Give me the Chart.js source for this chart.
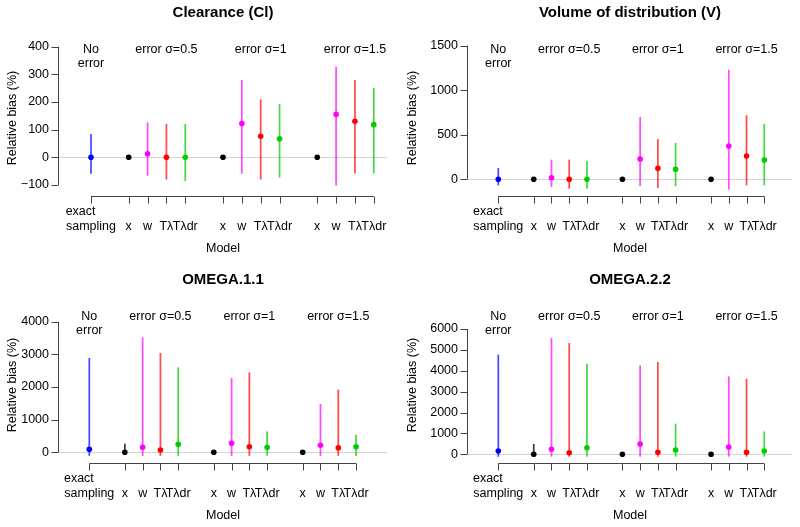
<!DOCTYPE html>
<html lang="en">
  <head>
    <meta charset="UTF-8" />
    <title>Relative bias by model</title>
    <script src="https://cdn.jsdelivr.net/npm/chart.js@4.4.1/dist/chart.umd.min.js"></script>
    <style>
      body {
        margin: 0;
        background: #fff;
      }
      #wrap {
        position: relative;
        width: 800px;
        height: 527px;
        overflow: hidden;
      }
      canvas {
        position: absolute;
      }
    </style>
  </head>
  <body>
    <div id="wrap">
      <canvas id="cl" width="400" height="263" style="left: 0; top: 0"></canvas>
      <canvas id="vol" width="400" height="263" style="left: 400px; top: 0"></canvas>
      <canvas id="om1" width="400" height="263" style="left: 0; top: 267px"></canvas>
      <canvas id="om2" width="400" height="263" style="left: 400px; top: 267px"></canvas>
    </div>
    <script>
      // model positions on the x axis and their labels
      const positions = [1, 3, 4, 5, 6, 8, 9, 10, 11, 13, 14, 15, 16];
      const modelLabels = ['exact sampling', 'x', 'w', 'Tλ', 'Tλdr', 'x', 'w', 'Tλ', 'Tλdr', 'x', 'w', 'Tλ', 'Tλdr'];
      const groupPos = [1, 5, 10, 15];
      const groupLabels = [['No', 'error'], ['error σ=0.5'], ['error σ=1'], ['error σ=1.5']];

      const pointColors = ['#0000ff', '#000000', '#ff00ff', '#ff0000', '#00cc00',
        '#000000', '#ff00ff', '#ff0000', '#00cc00', '#000000', '#ff00ff', '#ff0000', '#00cc00'];
      const lineColors = ['rgba(0,0,255,0.7)', 'rgba(0,0,0,0.75)', 'rgba(255,0,255,0.7)', 'rgba(255,0,0,0.7)', 'rgba(0,200,0,0.7)',
        'rgba(0,0,0,0.75)', 'rgba(255,0,255,0.7)', 'rgba(255,0,0,0.7)', 'rgba(0,200,0,0.7)',
        'rgba(0,0,0,0.75)', 'rgba(255,0,255,0.7)', 'rgba(255,0,0,0.7)', 'rgba(0,200,0,0.7)'];

      // Clearance (Cl)
      const clMed = [0, 0, 13, 0, 0, 0, 122, 76, 67, 0, 155, 130, 118];
      const clLo = [-58, 0, -65, -79, -85, 0, -58, -79, -72, 0, -101, -57, -57];
      const clHi = [83, 0, 125, 119, 119, 0, 278, 208, 191, 0, 326, 278, 250];
      const clTicks = [-100, 0, 100, 200, 300, 400];

      // Volume of distribution (V)
      const vMed = [0, 0, 18, 0, 0, 0, 228, 123, 112, 0, 374, 261, 217];
      const vLo = [-64, 0, -83, -101, -101, 0, -72, -94, -75, 0, -112, -64, -64];
      const vHi = [123, 0, 217, 217, 205, 0, 696, 449, 404, 0, 1227, 714, 617];
      const vTicks = [0, 500, 1000, 1500];

      // OMEGA.1.1
      const o1Med = [92, 0, 153, 70, 245, 0, 276, 172, 153, 0, 214, 141, 172];
      const o1Lo = [-100, -40, -100, -100, -100, 0, -100, -100, -100, 0, -100, -100, -100];
      const o1Hi = [2879, 254, 3510, 3032, 2591, 0, 2266, 2438, 631, 0, 1470, 1908, 530];
      const o1Ticks = [0, 1000, 2000, 3000, 4000];

      // OMEGA.2.2
      const o2Med = [158, 0, 239, 77, 316, 0, 493, 96, 206, 0, 350, 96, 158];
      const o2Lo = [-100, -40, -100, -100, -100, 0, -100, -100, -100, 0, -100, -100, -100];
      const o2Hi = [4753, 479, 5553, 5314, 4323, 0, 4241, 4404, 1450, 0, 3715, 3605, 1082];
      const o2Ticks = [0, 1000, 2000, 3000, 4000, 5000, 6000];

      const FONT = '"Liberation Sans", Arial, Helvetica, sans-serif';

      // R-style axes (range-limited lines with outward ticks) and group captions
      const rAxes = {
        id: 'rAxes',
        afterDraw(chart, args, opts) {
          const { ctx, chartArea } = chart;
          const x = chart.scales.x;
          const y = chart.scales.y;
          ctx.save();
          ctx.strokeStyle = '#444';
          ctx.lineWidth = 1;
          ctx.beginPath();
          const ax = Math.round(chartArea.left) - 0.5;
          const yt = opts.yTicks;
          ctx.moveTo(ax, y.getPixelForValue(yt[0]));
          ctx.lineTo(ax, y.getPixelForValue(yt[yt.length - 1]));
          yt.forEach((v) => {
            const p = Math.round(y.getPixelForValue(v)) + 0.5;
            ctx.moveTo(ax, p);
            ctx.lineTo(ax - 7, p);
          });
          const by = Math.round(chartArea.bottom) + 0.5;
          ctx.moveTo(x.getPixelForValue(positions[0]), by);
          ctx.lineTo(x.getPixelForValue(positions[positions.length - 1]), by);
          positions.forEach((v) => {
            const p = Math.round(x.getPixelForValue(v)) + 0.5;
            ctx.moveTo(p, by);
            ctx.lineTo(p, by + 7);
          });
          ctx.stroke();

          ctx.fillStyle = '#000';
          ctx.font = '12.5px ' + FONT;
          ctx.textAlign = 'center';
          ctx.textBaseline = 'middle';
          groupPos.forEach((g, i) => {
            groupLabels[i].forEach((line, j) => {
              ctx.fillText(line, x.getPixelForValue(g), chartArea.top + 9.5 + j * 14);
            });
          });
          ctx.restore();
        },
      };

      function makePanel(id, title, med, lo, hi, yTicks, cfg) {
        const tickFont = { family: FONT, size: 12.5 };
        return new Chart(document.getElementById(id), {
          type: 'scatter',
          data: {
            datasets: [
              {
                type: 'scatter',
                order: 0,
                data: med.map((m, i) => ({ x: positions[i], y: m })),
                pointBackgroundColor: pointColors,
                pointBorderWidth: 0,
                pointRadius: 2.8,
              },
              {
                type: 'bar',
                order: 1,
                data: hi.map((h, i) => ({ x: positions[i], y: [lo[i], h] })),
                backgroundColor: lineColors,
                borderWidth: 0,
                barThickness: 1.1,
              },
            ],
          },
          options: {
            responsive: false,
            animation: false,
            layout: { padding: { left: 0, right: 400 - cfg.right, top: 0, bottom: 0 } },
            plugins: {
              legend: { display: false },
              tooltip: { enabled: false },
              title: {
                display: true,
                text: title,
                fullSize: false,
                color: '#000',
                font: { family: FONT, size: 15, weight: 'bold' },
                padding: { top: 4, bottom: 18 },
              },
              rAxes: { yTicks: yTicks },
            },
            scales: {
              x: {
                type: 'linear',
                min: cfg.xMin,
                max: cfg.xMax,
                offset: false,
                afterBuildTicks: (s) => {
                  s.ticks = positions.map((v) => ({ value: v }));
                },
                afterFit: (s) => {
                  s.height = 67;
                },
                grid: { display: false, drawTicks: false },
                border: { display: false },
                ticks: {
                  autoSkip: false,
                  maxRotation: 0,
                  minRotation: 0,
                  padding: 8.5,
                  color: '#000',
                  font: tickFont,
                  callback: (v) => {
                    const s = modelLabels[positions.indexOf(v)];
                    if (s.includes(' ')) {
                      const parts = s.split(' ');
                      return [parts[0] + '\u00a0'.repeat(6), parts[1]];
                    }
                    return ['', s];
                  },
                },
                title: {
                  display: true,
                  text: 'Model',
                  color: '#000',
                  font: tickFont,
                  padding: { top: 0, bottom: 7 },
                },
              },
              y: {
                type: 'linear',
                min: cfg.yMin,
                max: cfg.yMax,
                afterBuildTicks: (s) => {
                  s.ticks = yTicks.map((v) => ({ value: v }));
                },
                afterFit: (s) => {
                  s.width = cfg.left;
                },
                grid: {
                  drawTicks: false,
                  color: (c) => (c.tick && c.tick.value === 0 ? '#d4d4d4' : 'rgba(0,0,0,0)'),
                },
                border: { display: false },
                ticks: {
                  padding: 10,
                  color: '#000',
                  font: tickFont,
                  callback: (v) => (v < 0 ? '\u2212' + -v : String(v)),
                },
                title: {
                  display: true,
                  text: 'Relative bias (%)',
                  color: '#000',
                  font: tickFont,
                  padding: { top: 5, bottom: 0 },
                },
              },
            },
          },
          plugins: [rAxes],
        });
      }

      makePanel('cl', 'Clearance (Cl)', clMed, clLo, clHi, clTicks,
        { left: 59, right: 387, xMin: -0.698, xMax: 16.7, yMin: -139.9, yMax: 423.9 });
      makePanel('vol', 'Volume of distribution (V)', vMed, vLo, vHi, vTicks,
        { left: 68, right: 392, xMin: -0.709, xMax: 17.565, yMin: -187.4, yMax: 1563.4 });
      makePanel('om1', 'OMEGA.1.1', o1Med, o1Lo, o1Hi, o1Ticks,
        { left: 59, right: 387, xMin: -0.704, xMax: 17.74, yMin: -327.7, yMax: 4450 });
      makePanel('om2', 'OMEGA.2.2', o2Med, o2Lo, o2Hi, o2Ticks,
        { left: 68, right: 392, xMin: -0.709, xMax: 17.565, yMin: -416.6, yMax: 7053.6 });
    </script>
  </body>
</html>
